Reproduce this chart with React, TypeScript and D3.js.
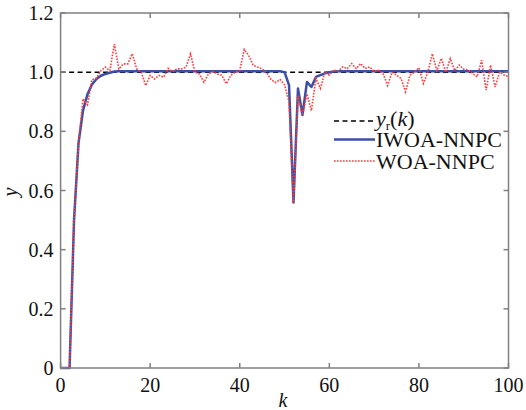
import React from "react";
import * as d3 from "d3";

const W = 526;
const H = 410;

const xTicks = [0, 20, 40, 60, 80, 100];
const yTicks = [0, 0.2, 0.4, 0.6, 0.8, 1.0, 1.2];
const yTickLabels = ["0", "0.2", "0.4", "0.6", "0.8", "1.0", "1.2"];

const reference = [1, 1];
const referenceK = [0, 100];

const iwoa = [
  0, 0, 0, 0.5, 0.76, 0.87, 0.925, 0.958, 0.977, 0.988,
  0.994, 0.998, 1.002, 1.003, 1.003, 1.003, 1.003, 1.003, 1.003, 1.003,
  1.003, 1.003, 1.003, 1.003, 1.003, 1.003, 1.003, 1.003, 1.003, 1.003,
  1.003, 1.003, 1.003, 1.003, 1.003, 1.003, 1.003, 1.003, 1.003, 1.003,
  1.003, 1.003, 1.003, 1.003, 1.003, 1.003, 1.003, 1.003, 1.003, 1.003,
  1.0, 0.956, 0.56, 0.945, 0.855, 0.967, 0.95, 0.984, 0.99, 0.996,
  1.0, 1.002, 1.003, 1.003, 1.003, 1.003, 1.003, 1.003, 1.003, 1.003,
  1.003, 1.003, 1.003, 1.003, 1.003, 1.003, 1.003, 1.003, 1.003, 1.003,
  1.003, 1.003, 1.003, 1.003, 1.003, 1.003, 1.003, 1.003, 1.003, 1.003,
  1.003, 1.003, 1.003, 1.003, 1.003, 1.003, 1.003, 1.003, 1.003, 1.003,
  1.003,
];

const woa = [
  0, 0, 0, 0.5, 0.76, 0.91, 0.89, 0.975, 0.98, 1.005,
  1.017, 1.005, 1.095, 1.011, 1.028, 1.028, 1.062, 1.011, 1.0, 0.955,
  0.989, 0.977, 0.989, 0.983, 1.013, 1.002, 1.011, 1.011, 1.017, 1.062,
  1.0, 0.994, 0.966, 0.994, 1.002, 0.994, 0.989, 0.961, 0.989, 1.0,
  1.006, 1.077, 1.056, 1.023, 1.017, 1.011, 0.998, 0.975, 0.965, 0.975,
  0.957, 0.9, 0.556, 0.92, 0.855, 0.926, 0.87, 0.979, 0.945, 1.0,
  0.99, 1.007, 1.003, 1.018, 1.012, 1.029, 1.012, 1.029, 1.012, 1.018,
  1.003, 1.006, 0.995, 0.955, 1.0, 0.99, 0.979, 0.934, 0.99, 1.0,
  1.015, 0.962, 1.0, 1.062, 1.005, 1.047, 1.0, 1.046, 1.005, 1.024,
  1.01, 1.008, 0.995, 0.984, 1.04, 0.939, 1.024, 0.95, 1.0, 0.99,
  0.985,
];

const legendLabels = ["IWOA-NNPC", "WOA-NNPC"];

const FONT = "'Liberation Serif', 'Times New Roman', serif";
const BLUE = "#3b4fa6";
const RED = "#ff3b3b";
const AXIS = "#808080";

export default function App() {
  const x = d3.scaleLinear().domain([0, 100]).range([60.6, 508.5]);
  const y = d3.scaleLinear().domain([0, 1.2]).range([368, 13]);

  const line = d3
    .line<number>()
    .x((_, i) => x(i))
    .y((d) => y(d));

  const refLine = d3
    .line<number>()
    .x((_, i) => x(referenceK[i]))
    .y((d) => y(d));

  const [x0, x1] = x.range();
  const [y0, y1] = y.range();
  const tick = 5;

  return (
    <svg
      width={W}
      height={H}
      style={{ position: "absolute", left: 0, top: 0, background: "#fff" }}
      fontFamily={FONT}
    >
      <rect x={0} y={0} width={W} height={H} fill="#fff" />
      <path
        d={refLine(reference) || ""}
        fill="none"
        stroke="#000"
        strokeWidth={1.5}
        strokeDasharray="5 3.5"
      />
      <path d={line(iwoa) || ""} fill="none" stroke={BLUE} strokeWidth={2.5} strokeLinejoin="round" />
      <path
        d={line(woa) || ""}
        fill="none"
        stroke={RED}
        strokeWidth={1.6}
        strokeDasharray="1.6 1.4"
      />

      <rect x={x0} y={y1} width={x1 - x0} height={y0 - y1} fill="none" stroke={AXIS} strokeWidth={1.5} />
      {xTicks.map((t) => (
        <g key={"xt" + t}>
          <line x1={x(t)} x2={x(t)} y1={y0} y2={y0 - tick} stroke={AXIS} strokeWidth={1.5} />
          <line x1={x(t)} x2={x(t)} y1={y1} y2={y1 + tick} stroke={AXIS} strokeWidth={1.5} />
          <text x={x(t)} y={392} textAnchor="middle" fontSize={20} fill="#111">
            {t}
          </text>
        </g>
      ))}
      {yTicks.map((t, i) => (
        <g key={"yt" + t}>
          <line x1={x0} x2={x0 + tick} y1={y(t)} y2={y(t)} stroke={AXIS} strokeWidth={1.5} />
          <line x1={x1} x2={x1 - tick} y1={y(t)} y2={y(t)} stroke={AXIS} strokeWidth={1.5} />
          <text x={53.5} y={y(t)} dy="0.35em" textAnchor="end" fontSize={20} fill="#111">
            {yTickLabels[i]}
          </text>
        </g>
      ))}

      <text x={283} y={407} textAnchor="middle" fontSize={20} fontStyle="italic" fill="#111">
        k
      </text>
      <text
        transform="translate(17,192) rotate(-90)"
        textAnchor="middle"
        fontSize={20}
        fontStyle="italic"
        fill="#111"
      >
        y
      </text>

      <g>
        <line x1={334} x2={375} y1={121} y2={121} stroke="#000" strokeWidth={1.5} strokeDasharray="5 3.5" />
        <text x={376} y={126} fontSize={22} fill="#111">
          <tspan fontStyle="italic">y</tspan>
          <tspan fontSize={13} dy={4}>r</tspan>
          <tspan dy={-4}>(</tspan>
          <tspan fontStyle="italic">k</tspan>
          <tspan>)</tspan>
        </text>
        <line x1={334} x2={375} y1={139.5} y2={139.5} stroke={BLUE} strokeWidth={2.5} />
        <text x={376} y={147} fontSize={22} fill="#111">
          {legendLabels[0]}
        </text>
        <line x1={334} x2={375} y1={161} y2={161} stroke={RED} strokeWidth={1.6} strokeDasharray="1.6 1.4" />
        <text x={376} y={168.5} fontSize={22} fill="#111">
          {legendLabels[1]}
        </text>
      </g>
    </svg>
  );
}
